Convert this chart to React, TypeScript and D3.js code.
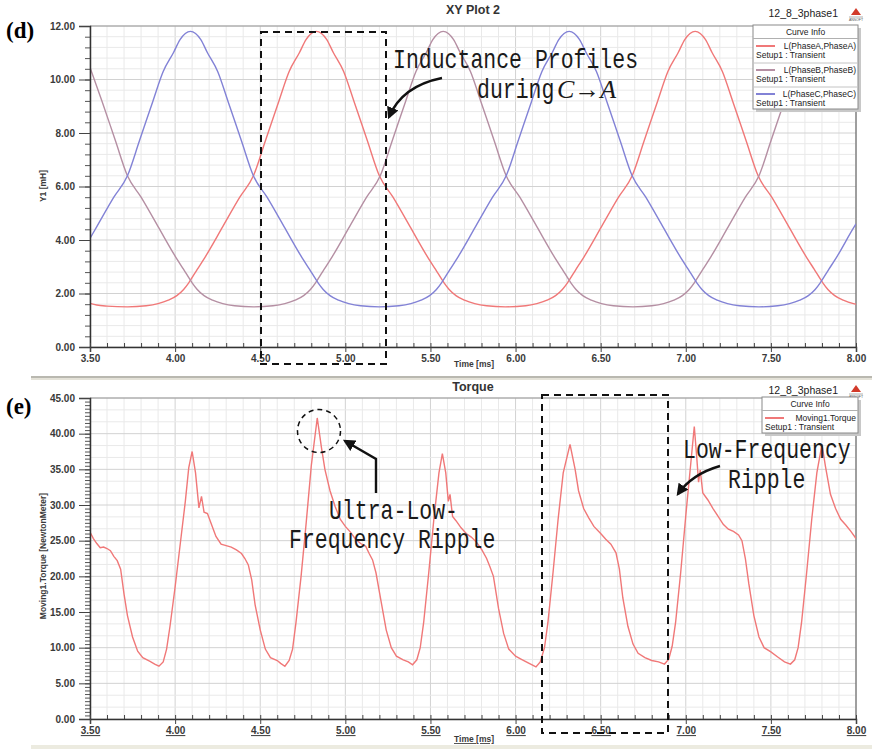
import React, { useEffect, useRef } from 'react';
import * as d3 from 'd3';

type Pt = [number, number];

// time axis (ms)
const timeTicks = [3.5, 4.0, 4.5, 5.0, 5.5, 6.0, 6.5, 7.0, 7.5, 8.0];
const inductanceTicks = [0, 2, 4, 6, 8, 10, 12];
const torqueTicks = [0, 5, 10, 15, 20, 25, 30, 35, 40, 45];

// L(PhaseA,PhaseA) [mH]
const phaseA: Pt[] = [
  [3.5, 1.63], [3.54, 1.57], [3.6, 1.53], [3.72, 1.5], [3.83, 1.54], [3.9, 1.62], [3.96, 1.75],
  [4.01, 1.92], [4.05, 2.15], [4.08, 2.4], [4.13, 2.9], [4.18, 3.4], [4.28, 4.5], [4.38, 5.6],
  [4.46, 6.4], [4.53, 7.7], [4.61, 9.2], [4.67, 10.3], [4.73, 11.0], [4.77, 11.5], [4.8, 11.72],
  [4.83, 11.8], [4.86, 11.72], [4.89, 11.5], [4.93, 11.0], [4.99, 10.3], [5.05, 9.2], [5.13, 7.7],
  [5.2, 6.4], [5.28, 5.6], [5.38, 4.5], [5.48, 3.4], [5.53, 2.9], [5.58, 2.4], [5.61, 2.15],
  [5.65, 1.92], [5.7, 1.75], [5.76, 1.62], [5.83, 1.54], [5.94, 1.5], [6.06, 1.54], [6.125, 1.62],
  [6.185, 1.75], [6.235, 1.92], [6.275, 2.15], [6.305, 2.4], [6.355, 2.9], [6.405, 3.4],
  [6.505, 4.5], [6.605, 5.6], [6.685, 6.4], [6.755, 7.7], [6.835, 9.2], [6.895, 10.3],
  [6.955, 11.0], [6.995, 11.5], [7.025, 11.72], [7.055, 11.8], [7.085, 11.72], [7.115, 11.5],
  [7.155, 11.0], [7.215, 10.3], [7.275, 9.2], [7.355, 7.7], [7.425, 6.4], [7.505, 5.6],
  [7.605, 4.5], [7.705, 3.4], [7.755, 2.9], [7.805, 2.4], [7.835, 2.15], [7.875, 1.92],
  [7.925, 1.75], [7.985, 1.62], [8.0, 1.6],
];

// L(PhaseB,PhaseB) [mH]
const phaseB: Pt[] = [
  [3.5, 10.45], [3.57, 9.2], [3.65, 7.7], [3.72, 6.4], [3.8, 5.6], [3.9, 4.5], [4.0, 3.4],
  [4.05, 2.9], [4.1, 2.4], [4.13, 2.15], [4.17, 1.92], [4.22, 1.75], [4.28, 1.62], [4.35, 1.54],
  [4.46, 1.5], [4.575, 1.54], [4.645, 1.62], [4.705, 1.75], [4.755, 1.92], [4.795, 2.15],
  [4.825, 2.4], [4.875, 2.9], [4.925, 3.4], [5.025, 4.5], [5.125, 5.6], [5.205, 6.4],
  [5.275, 7.7], [5.355, 9.2], [5.415, 10.3], [5.475, 11.0], [5.515, 11.5], [5.545, 11.72],
  [5.575, 11.8], [5.605, 11.72], [5.635, 11.5], [5.675, 11.0], [5.735, 10.3], [5.795, 9.2],
  [5.875, 7.7], [5.945, 6.4], [6.025, 5.6], [6.125, 4.5], [6.225, 3.4], [6.275, 2.9],
  [6.325, 2.4], [6.355, 2.15], [6.395, 1.92], [6.445, 1.75], [6.505, 1.62], [6.575, 1.54],
  [6.69, 1.5], [6.8, 1.54], [6.87, 1.62], [6.93, 1.75], [6.98, 1.92], [7.02, 2.15], [7.05, 2.4],
  [7.1, 2.9], [7.15, 3.4], [7.25, 4.5], [7.35, 5.6], [7.43, 6.4], [7.5, 7.7], [7.58, 9.2],
  [7.64, 10.3], [7.7, 11.0], [7.74, 11.5], [7.77, 11.72], [7.8, 11.8], [7.83, 11.72],
  [7.86, 11.5], [7.9, 11.0], [7.96, 10.3], [8.0, 9.7],
];

// L(PhaseC,PhaseC) [mH]
const phaseC: Pt[] = [
  [3.5, 4.06], [3.54, 4.5], [3.64, 5.6], [3.72, 6.4], [3.79, 7.7], [3.87, 9.2], [3.93, 10.3],
  [3.99, 11.0], [4.03, 11.5], [4.06, 11.72], [4.09, 11.8], [4.12, 11.72], [4.15, 11.5],
  [4.19, 11.0], [4.25, 10.3], [4.31, 9.2], [4.39, 7.7], [4.46, 6.4], [4.54, 5.6], [4.64, 4.5],
  [4.74, 3.4], [4.79, 2.9], [4.84, 2.4], [4.87, 2.15], [4.91, 1.92], [4.96, 1.75], [5.02, 1.62],
  [5.09, 1.54], [5.2, 1.5], [5.315, 1.54], [5.385, 1.62], [5.445, 1.75], [5.495, 1.92],
  [5.535, 2.15], [5.565, 2.4], [5.615, 2.9], [5.665, 3.4], [5.765, 4.5], [5.865, 5.6],
  [5.945, 6.4], [6.015, 7.7], [6.095, 9.2], [6.155, 10.3], [6.215, 11.0], [6.255, 11.5],
  [6.285, 11.72], [6.315, 11.8], [6.345, 11.72], [6.375, 11.5], [6.415, 11.0], [6.475, 10.3],
  [6.535, 9.2], [6.615, 7.7], [6.685, 6.4], [6.765, 5.6], [6.865, 4.5], [6.965, 3.4],
  [7.015, 2.9], [7.065, 2.4], [7.095, 2.15], [7.135, 1.92], [7.185, 1.75], [7.245, 1.62],
  [7.315, 1.54], [7.43, 1.5], [7.54, 1.54], [7.61, 1.62], [7.67, 1.75], [7.72, 1.92],
  [7.76, 2.15], [7.79, 2.4], [7.84, 2.9], [7.89, 3.4], [7.99, 4.5], [8.0, 4.6],
];

// Moving1.Torque [NewtonMeter]
const torque: Pt[] = [
  [3.5, 26.2], [3.52, 25.3], [3.54, 24.6], [3.56, 24.0], [3.58, 24.1], [3.6, 23.9], [3.62, 23.6],
  [3.64, 22.8], [3.66, 22.2], [3.68, 21.0], [3.7, 17.5], [3.72, 14.5], [3.75, 11.5], [3.78, 9.5],
  [3.81, 8.6], [3.85, 8.1], [3.88, 7.7], [3.905, 7.4], [3.93, 8.0], [3.95, 9.8], [3.97, 13.0],
  [4.0, 18.5], [4.03, 24.5], [4.06, 30.5], [4.08, 35.2], [4.1, 37.5], [4.12, 34.5], [4.14, 29.6],
  [4.155, 31.2], [4.17, 29.0], [4.19, 28.8], [4.21, 27.5], [4.24, 25.6], [4.27, 24.5],
  [4.3, 24.3], [4.33, 24.1], [4.36, 23.7], [4.39, 23.2], [4.41, 22.5], [4.43, 21.6], [4.45, 19.5],
  [4.47, 16.0], [4.5, 12.5], [4.53, 9.8], [4.56, 8.6], [4.6, 8.2], [4.62, 7.8], [4.645, 7.4],
  [4.67, 8.2], [4.69, 9.8], [4.71, 13.5], [4.74, 20.0], [4.77, 27.5], [4.8, 35.5], [4.835, 42.2],
  [4.86, 38.0], [4.88, 35.0], [4.91, 32.0], [4.94, 29.8], [4.97, 28.0], [5.0, 27.0], [5.03, 26.2],
  [5.06, 25.2], [5.09, 24.6], [5.12, 24.2], [5.14, 23.2], [5.16, 22.3], [5.18, 20.5],
  [5.21, 16.5], [5.24, 12.5], [5.27, 10.0], [5.3, 8.8], [5.34, 8.3], [5.37, 8.0], [5.395, 7.6],
  [5.42, 8.3], [5.44, 10.0], [5.46, 13.5], [5.49, 20.5], [5.52, 28.0], [5.55, 34.5], [5.57, 37.2],
  [5.59, 34.5], [5.605, 30.5], [5.615, 31.5], [5.63, 28.4], [5.65, 27.8], [5.68, 26.8],
  [5.71, 26.0], [5.74, 25.5], [5.77, 24.8], [5.8, 23.8], [5.83, 22.5], [5.85, 21.3], [5.87, 20.0],
  [5.9, 15.5], [5.93, 12.0], [5.96, 9.8], [6.0, 8.8], [6.04, 8.3], [6.08, 7.8], [6.12, 7.3],
  [6.145, 8.0], [6.17, 10.0], [6.19, 13.5], [6.22, 20.5], [6.25, 28.0], [6.28, 34.5],
  [6.32, 38.5], [6.35, 35.0], [6.37, 32.0], [6.4, 29.5], [6.43, 28.2], [6.46, 27.0], [6.5, 26.0],
  [6.53, 25.2], [6.56, 24.5], [6.59, 23.3], [6.61, 21.0], [6.63, 17.0], [6.66, 13.0],
  [6.69, 10.5], [6.72, 9.2], [6.76, 8.6], [6.8, 8.2], [6.84, 8.0], [6.875, 7.7], [6.9, 8.4],
  [6.92, 10.2], [6.94, 13.5], [6.97, 20.5], [7.0, 28.5], [7.03, 36.0], [7.05, 41.0],
  [7.065, 36.5], [7.075, 33.2], [7.085, 34.9], [7.1, 31.7], [7.13, 30.7], [7.16, 29.5],
  [7.19, 28.4], [7.22, 27.3], [7.25, 26.6], [7.28, 26.3], [7.31, 25.8], [7.33, 25.0],
  [7.35, 22.5], [7.37, 19.0], [7.4, 14.5], [7.43, 11.5], [7.46, 10.0], [7.5, 9.4], [7.54, 8.7],
  [7.58, 8.0], [7.615, 7.7], [7.64, 8.3], [7.66, 10.0], [7.68, 13.5], [7.71, 20.5], [7.74, 28.0],
  [7.77, 34.5], [7.8, 38.5], [7.82, 35.5], [7.85, 31.5], [7.88, 29.5], [7.91, 28.0], [7.94, 27.2],
  [7.97, 26.3], [8.0, 25.3],
];

const SANS = '"Liberation Sans", Arial, sans-serif';
const MONO = '"Liberation Mono", "Courier New", monospace';
const SERIF = '"Liberation Serif", "Times New Roman", serif';

const X0 = 90;
const X1 = 856;

type Series = { data: Pt[]; color: string; name: string };

type Panel = {
  id: string;
  title: string;
  titleY: number;
  yTop: number;
  yBottom: number;
  yMax: number;
  yTicks: number[];
  yMinor: number;
  yGrid: number;
  yLabel: string;
  labelY: number;
  timeLabelY: number;
  underline: boolean;
  series: Series[];
  smooth: boolean;
};

function drawPanel(svg: d3.Selection<SVGSVGElement, unknown, null, undefined>, p: Panel) {
  const g = svg.append('g');
  const x = d3.scaleLinear().domain([3.5, 8]).range([X0, X1]);
  const y = d3.scaleLinear().domain([0, p.yMax]).range([p.yBottom, p.yTop]);

  // grid
  const xg = d3.range(35, 81).map((v) => v / 10);
  const nY = Math.round(p.yMax / p.yGrid);
  const yg = d3.range(0, nY + 1).map((i) => i * p.yGrid);
  g.append('g')
    .selectAll('line')
    .data(xg)
    .join('line')
    .attr('x1', (d) => x(d))
    .attr('x2', (d) => x(d))
    .attr('y1', p.yTop)
    .attr('y2', p.yBottom)
    .attr('stroke', (d, i) => (i % 5 === 0 ? '#d2d2d2' : '#e9e9e9'))
    .attr('stroke-width', 1);
  g.append('g')
    .selectAll('line')
    .data(yg)
    .join('line')
    .attr('x1', X0)
    .attr('x2', X1)
    .attr('y1', (d) => y(d))
    .attr('y2', (d) => y(d))
    .attr('stroke', (d) => (p.yTicks.some((t) => Math.abs(t - d) < 1e-6) ? '#d2d2d2' : '#e9e9e9'))
    .attr('stroke-width', 1);

  // frame
  g.append('line').attr('x1', X0).attr('x2', X1).attr('y1', p.yTop).attr('y2', p.yTop).attr('stroke', '#9a9a9a');
  g.append('line').attr('x1', X1).attr('x2', X1).attr('y1', p.yTop).attr('y2', p.yBottom).attr('stroke', '#555');

  // curves
  g.append('clipPath')
    .attr('id', `clip-${p.id}`)
    .append('rect')
    .attr('x', X0)
    .attr('y', p.yTop)
    .attr('width', X1 - X0)
    .attr('height', p.yBottom - p.yTop);
  const line = d3
    .line<Pt>()
    .x((d) => x(d[0]))
    .y((d) => y(d[1]))
    .curve(p.smooth ? d3.curveMonotoneX : d3.curveLinear);
  g.append('g')
    .attr('clip-path', `url(#clip-${p.id})`)
    .selectAll('path')
    .data(p.series)
    .join('path')
    .attr('d', (s) => line(s.data))
    .attr('fill', 'none')
    .attr('stroke', (s) => s.color)
    .attr('stroke-width', 1.4);

  // y axis
  const yMinorVals = d3.range(0, Math.round(p.yMax / p.yMinor) + 1).map((i) => i * p.yMinor);
  g.append('g')
    .attr('transform', `translate(${X0},0)`)
    .call(d3.axisLeft(y).tickValues(yMinorVals).tickSize(5).tickFormat(() => ''))
    .call((a) => a.select('.domain').remove())
    .call((a) => a.selectAll('line').attr('stroke', '#555'));
  const ya = g
    .append('g')
    .attr('transform', `translate(${X0},0)`)
    .call(d3.axisLeft(y).tickValues(p.yTicks).tickSize(11).tickPadding(4).tickFormat(d3.format('.2f')));
  ya.select('.domain').attr('stroke', '#333').attr('stroke-width', 1.5);
  ya.selectAll('line').attr('stroke', '#444');
  ya.selectAll('text').attr('font-family', SANS).attr('font-size', 10).attr('font-weight', 'bold').attr('fill', '#3a3a3a');

  // x axis
  g.append('g')
    .attr('transform', `translate(0,${p.yBottom})`)
    .call(d3.axisTop(x).tickValues(xg).tickSize(4).tickFormat(() => ''))
    .call((a) => a.select('.domain').remove())
    .call((a) => a.selectAll('line').attr('stroke', '#444'));
  const xa = g
    .append('g')
    .attr('transform', `translate(0,${p.yBottom})`)
    .call(d3.axisBottom(x).tickValues(timeTicks).tickSize(5).tickPadding(3).tickFormat(d3.format('.2f')));
  xa.select('.domain').attr('stroke', '#333').attr('stroke-width', 1.5);
  xa.selectAll('line').attr('stroke', '#444');
  xa.selectAll('text')
    .attr('font-family', SANS)
    .attr('font-size', 10)
    .attr('font-weight', 'bold')
    .attr('fill', '#3a3a3a')
    .attr('text-decoration', p.underline ? 'underline' : null);

  // axis titles
  g.append('text')
    .attr('x', 474)
    .attr('y', p.timeLabelY)
    .attr('text-anchor', 'middle')
    .attr('font-family', SANS)
    .attr('font-size', 8.5)
    .attr('font-weight', 'bold')
    .attr('fill', '#3a3a3a')
    .attr('text-decoration', p.underline ? 'underline' : null)
    .text('Time [ms]');
  g.append('text')
    .attr('transform', `translate(46,${p.labelY}) rotate(-90)`)
    .attr('text-anchor', 'middle')
    .attr('font-family', SANS)
    .attr('font-size', 8.5)
    .attr('font-weight', 'bold')
    .attr('fill', '#3a3a3a')
    .text(p.yLabel);

  // header
  g.append('text')
    .attr('x', 473)
    .attr('y', p.titleY)
    .attr('text-anchor', 'middle')
    .attr('font-family', SANS)
    .attr('font-size', 12.5)
    .attr('font-weight', 'bold')
    .attr('fill', '#333')
    .text(p.title);
  g.append('text')
    .attr('x', 838)
    .attr('y', p.titleY + 3)
    .attr('text-anchor', 'end')
    .attr('font-family', SANS)
    .attr('font-size', 10.5)
    .attr('fill', '#222')
    .text('12_8_3phase1');
  const logo = g.append('g').attr('transform', `translate(856,${p.titleY - 6})`);
  logo.append('path').attr('d', 'M0,0 L-5,7 L5,7 Z').attr('fill', '#d23a2a');
  logo.append('line').attr('x1', -7).attr('x2', 7).attr('y1', 9).attr('y2', 9).attr('stroke', '#999').attr('stroke-width', 0.8);
  logo.append('text').attr('y', 12.5).attr('text-anchor', 'middle').attr('font-family', SANS).attr('font-size', 3.5).attr('fill', '#555').text('ANSOFT');

  return { x, y };
}

function drawLegend(
  svg: d3.Selection<SVGSVGElement, unknown, null, undefined>,
  left: number,
  top: number,
  width: number,
  series: Series[],
) {
  const rowH = 24;
  const h = 14 + rowH * series.length - 2;
  const g = svg.append('g');
  g.append('rect').attr('x', left + 3).attr('y', top + 3).attr('width', width).attr('height', h).attr('fill', '#c8c8c8');
  g.append('rect').attr('x', left).attr('y', top).attr('width', width).attr('height', h).attr('fill', '#fff').attr('stroke', '#8a8a8a');
  g.append('text')
    .attr('x', left + width / 2)
    .attr('y', top + 10)
    .attr('text-anchor', 'middle')
    .attr('font-family', SANS)
    .attr('font-size', 8.5)
    .attr('fill', '#222')
    .text('Curve Info');
  g.append('line').attr('x1', left).attr('x2', left + width).attr('y1', top + 13.5).attr('y2', top + 13.5).attr('stroke', '#b0b0b0');
  series.forEach((s, i) => {
    const ry = top + 14 + i * rowH;
    if (i > 0) {
      g.append('line').attr('x1', left).attr('x2', left + width).attr('y1', ry).attr('y2', ry).attr('stroke', '#c4c4c4');
    }
    g.append('line')
      .attr('x1', left + 3)
      .attr('x2', left + 22)
      .attr('y1', ry + 7)
      .attr('y2', ry + 7)
      .attr('stroke', s.color)
      .attr('stroke-width', 2);
    g.append('text')
      .attr('x', left + width - 2)
      .attr('y', ry + 10)
      .attr('text-anchor', 'end')
      .attr('font-family', SANS)
      .attr('font-size', 8.5)
      .attr('fill', '#222')
      .text(s.name);
    g.append('text')
      .attr('x', left + 3)
      .attr('y', ry + 19)
      .attr('font-family', SANS)
      .attr('font-size', 8.5)
      .attr('fill', '#222')
      .text('Setup1 : Transient');
  });
}

function monoText(
  g: d3.Selection<SVGGElement, unknown, null, undefined>,
  x: number,
  y: number,
  txt: string,
) {
  return g
    .append('text')
    .attr('transform', `translate(${x},${y}) scale(1,1.25)`)
    .attr('font-family', MONO)
    .attr('font-size', 21.5)
    .attr('fill', '#1a1a1a')
    .text(txt);
}

export default function App() {
  const ref = useRef<SVGSVGElement>(null);

  useEffect(() => {
    const svg = d3.select(ref.current as SVGSVGElement);
    svg.selectAll('*').remove();

    svg.append('rect').attr('width', 872).attr('height', 749).attr('fill', '#fff');

    const defs = svg.append('defs');
    defs
      .append('marker')
      .attr('id', 'arrow')
      .attr('viewBox', '0 0 10 10')
      .attr('refX', 8)
      .attr('refY', 5)
      .attr('markerWidth', 5)
      .attr('markerHeight', 5)
      .attr('markerUnits', 'strokeWidth')
      .attr('orient', 'auto')
      .append('path')
      .attr('d', 'M0,0 L10,5 L0,10 Z')
      .attr('fill', '#111');

    const indSeries: Series[] = [
      { data: phaseA, color: '#f07878', name: 'L(PhaseA,PhaseA)' },
      { data: phaseB, color: '#b58fa3', name: 'L(PhaseB,PhaseB)' },
      { data: phaseC, color: '#8282d6', name: 'L(PhaseC,PhaseC)' },
    ];
    const torqueSeries: Series[] = [{ data: torque, color: '#f07878', name: 'Moving1.Torque' }];

    drawPanel(svg, {
      id: 'ind',
      title: 'XY Plot 2',
      titleY: 14,
      yTop: 26,
      yBottom: 347,
      yMax: 12,
      yTicks: inductanceTicks,
      yMinor: 0.4,
      yGrid: 0.4,
      yLabel: 'Y1 [mH]',
      labelY: 186,
      timeLabelY: 367,
      underline: false,
      series: indSeries,
      smooth: true,
    });
    drawLegend(svg, 753, 25, 105, indSeries);

    // panel separators
    svg.append('rect').attr('x', 31).attr('y', 376).attr('width', 841).attr('height', 4).attr('fill', '#e4e2d8');
    svg.append('line').attr('x1', 31).attr('x2', 872).attr('y1', 377).attr('y2', 377).attr('stroke', '#8e8e88').attr('stroke-width', 1.2);
    svg.append('rect').attr('x', 31).attr('y', 745).attr('width', 841).attr('height', 4).attr('fill', '#ecebe0');

    drawPanel(svg, {
      id: 'tq',
      title: 'Torque',
      titleY: 391,
      yTop: 398,
      yBottom: 719,
      yMax: 45,
      yTicks: torqueTicks,
      yMinor: 0.5,
      yGrid: 5 / 3,
      yLabel: 'Moving1.Torque [NewtonMeter]',
      labelY: 556,
      timeLabelY: 742,
      underline: true,
      series: torqueSeries,
      smooth: false,
    });
    drawLegend(svg, 762, 397, 96, torqueSeries);

    // panel letters
    svg.append('text').attr('x', 6).attr('y', 38).attr('font-family', SERIF).attr('font-size', 23).attr('font-weight', 'bold').text('(d)');
    svg.append('text').attr('x', 6).attr('y', 414).attr('font-family', SERIF).attr('font-size', 23).attr('font-weight', 'bold').text('(e)');

    // annotations
    const ann = svg.append('g');
    const dashed = { stroke: '#111', width: 2, dash: '7,5' };
    ann.append('rect')
      .attr('x', 261).attr('y', 32).attr('width', 125).attr('height', 332)
      .attr('fill', 'none').attr('stroke', dashed.stroke).attr('stroke-width', dashed.width).attr('stroke-dasharray', dashed.dash);
    ann.append('rect')
      .attr('x', 542).attr('y', 395).attr('width', 126).attr('height', 338)
      .attr('fill', 'none').attr('stroke', dashed.stroke).attr('stroke-width', dashed.width).attr('stroke-dasharray', dashed.dash);
    ann.append('circle')
      .attr('cx', 319).attr('cy', 431).attr('r', 21.5)
      .attr('fill', 'none').attr('stroke', '#111').attr('stroke-width', 1.5).attr('stroke-dasharray', '5,4');

    monoText(ann, 393, 68, 'Inductance Profiles');
    monoText(ann, 477, 98, 'during');
    ann.append('text')
      .attr('x', 557)
      .attr('y', 98)
      .attr('font-family', SERIF)
      .attr('font-size', 26)
      .attr('fill', '#1a1a1a')
      .call((t) => {
        t.append('tspan').attr('font-style', 'italic').text('C');
        t.append('tspan').text('→');
        t.append('tspan').attr('font-style', 'italic').text('A');
      });
    monoText(ann, 329, 519, 'Ultra-Low-');
    monoText(ann, 289, 548, 'Frequency Ripple');
    monoText(ann, 683, 458, 'Low-Frequency');
    monoText(ann, 728, 488, 'Ripple');

    const arrowPaths = ['M442,78 Q402,86 389,117', 'M376,493 L376,459 L345,441', 'M720,466 Q692,474 678,494'];
    ann.selectAll('path.arr')
      .data(arrowPaths)
      .join('path')
      .attr('class', 'arr')
      .attr('d', (d) => d)
      .attr('fill', 'none')
      .attr('stroke', '#111')
      .attr('stroke-width', 2.4)
      .attr('marker-end', 'url(#arrow)');
  }, []);

  return (
    <svg
      ref={ref}
      width={872}
      height={749}
      style={{ position: 'absolute', left: 0, top: 0, display: 'block' }}
    />
  );
}
